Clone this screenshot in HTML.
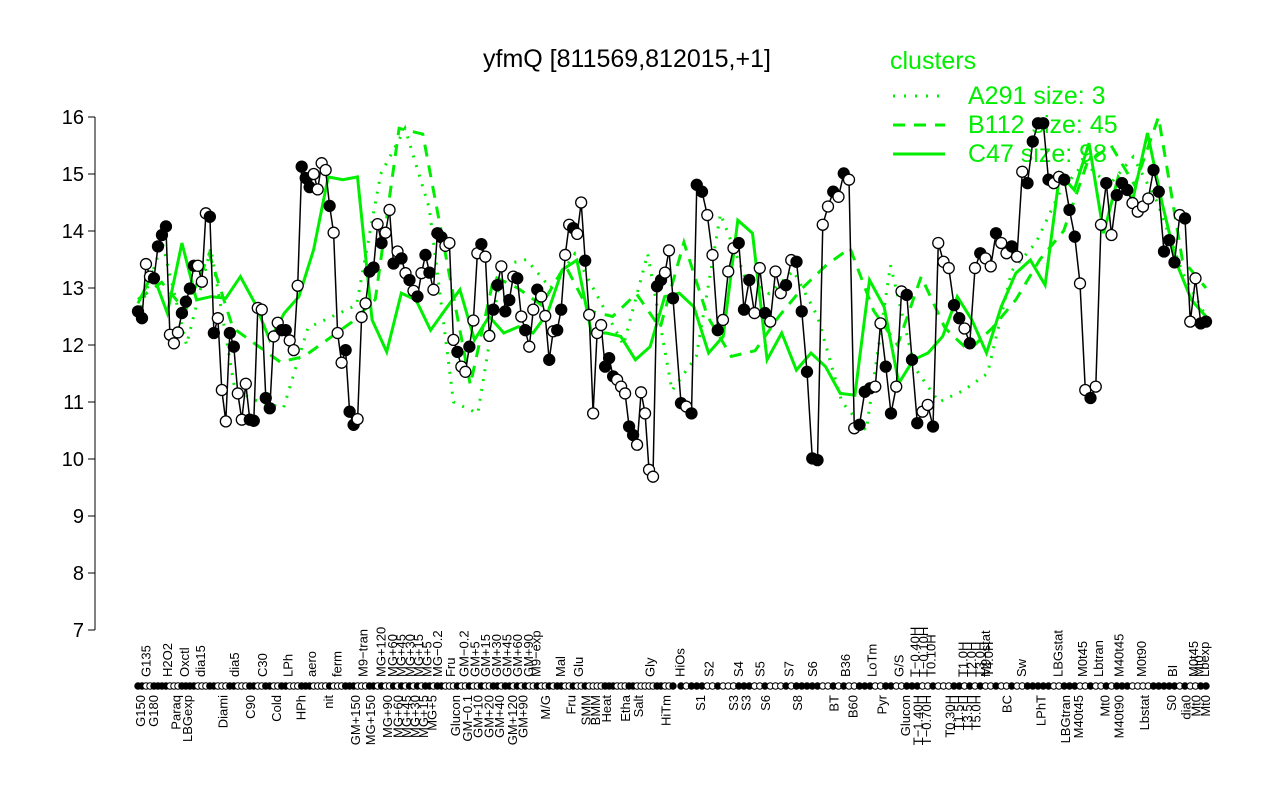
<!DOCTYPE html>
<html><head><meta charset="utf-8"><title>yfmQ</title>
<style>
html,body{margin:0;padding:0;background:#fff;}
svg{display:block;font-family:"Liberation Sans",Arial,sans-serif;}
</style></head>
<body>
<svg id="chart" width="1280" height="800" viewBox="0 0 1280 800">
<text x="627" y="67" font-size="25" text-anchor="middle">yfmQ [811569,812015,+1]</text>
<g id="legend">
<text x="890" y="69" font-size="25" fill="#00ee00">clusters</text>
<g><line x1="893" y1="96" x2="945" y2="96" stroke="#00ee00" stroke-width="3" stroke-dasharray="2,9"/><text x="968" y="104" font-size="25" fill="#00ee00">A291 size: 3</text></g>
<g><line x1="893" y1="125" x2="945" y2="125" stroke="#00ee00" stroke-width="3" stroke-dasharray="12,9"/><text x="968" y="133" font-size="25" fill="#00ee00">B112 size: 45</text></g>
<g><line x1="893" y1="154" x2="945" y2="154" stroke="#00ee00" stroke-width="3"/><text x="968" y="162" font-size="25" fill="#00ee00">C47 size: 98</text></g>
</g>
</svg>
<script>
const values = [12.59,12.47,13.42,13.20,13.17,13.73,13.93,14.08,12.18,12.03,12.22,12.56,12.76,12.99,13.39,13.39,13.11,14.31,14.25,12.21,12.47,11.21,10.66,12.21,11.97,11.15,10.69,11.32,10.69,10.67,12.65,12.62,11.07,10.89,12.15,12.39,12.26,12.26,12.08,11.91,13.04,15.13,14.93,14.77,15.00,14.73,15.19,15.07,14.44,13.97,12.21,11.69,11.91,10.83,10.60,10.70,12.49,12.73,13.29,13.36,14.12,13.79,13.97,14.37,13.43,13.64,13.52,13.26,13.14,12.95,12.85,13.26,13.58,13.27,12.97,13.96,13.89,13.74,13.79,12.09,11.88,11.62,11.53,11.97,12.43,13.61,13.77,13.55,12.16,12.62,13.05,13.38,12.59,12.79,13.20,13.17,12.50,12.26,11.97,12.62,12.97,12.85,12.51,11.74,12.24,12.26,12.62,13.58,14.11,14.05,13.95,14.50,13.48,12.53,10.80,12.21,12.35,11.62,11.77,11.45,11.39,11.27,11.15,10.57,10.42,10.25,11.17,10.80,9.81,9.69,13.03,13.14,13.27,13.66,12.82,
10.98,10.92,10.80,14.81,14.69,14.28,13.58,12.26,12.44,13.29,13.70,13.79,12.62,13.14,12.56,13.35,12.56,12.41,13.29,12.91,13.05,13.49,13.46,12.59,11.53,10.01,9.98,14.11,14.43,14.69,14.60,15.01,14.90,10.54,10.60,11.18,11.24,11.27,12.38,11.62,10.80,11.27,12.94,12.88,11.74,10.63,10.83,10.95,10.57,13.79,13.46,13.35,12.70,12.47,12.29,12.03,13.35,13.61,13.52,13.38,13.96,13.79,13.61,13.73,13.55,15.04,14.84,15.57,15.89,15.89,14.90,14.84,14.95,14.90,14.37,13.90,13.08,11.21,11.07,11.27,14.11,14.84,13.93,14.63,14.84,14.72,14.49,14.34,14.43,14.57,15.07,14.69,13.64,13.84,13.45,14.28,14.22,12.41,13.17,12.38,12.41];
const filled = "ffooffffoooffffoooffoooffoooffooffooffooofffoooofooofffoooffofoofofofofoffoffooofoofoofooffoffofofoofoofoffoofoofoooofffoooffoooooffooffofff"+
"oofooofffoofooofofffffoofofoofffooffoofffoofoooffofofoofoofoofffffoofffoofoofofffoooofffffofooffoffooffoff";
const leftCount = 135;
const c47 = [12.73,13.26,12.56,13.79,12.79,12.85,12.82,13.20,12.73,12.09,12.56,12.85,13.67,14.95,14.90,14.95,12.44,11.88,12.91,12.79,12.26,12.62,12.97,12.09,12.50,12.21,12.32,12.21,12.56,13.32,13.49,12.21,12.21,12.15,11.74,11.97,12.85,12.91,12.67,
11.86,12.15,14.19,13.96,11.74,12.21,11.56,11.86,11.62,11.15,11.12,13.14,12.67,11.33,11.74,11.86,12.15,12.85,12.44,11.86,12.67,13.26,13.49,13.05,15.01,14.72,15.54,13.96,14.95,14.55,15.72,14.49,13.43,12.79,12.50];
const b112 = [12.8,13.1,12.6,13.6,12.3,12.0,11.7,11.8,12.1,12.4,12.8,15.8,15.7,13.5,11.3,13.2,13.0,12.7,13.4,12.6,12.5,12.9,12.3,13.8,12.5,11.8,11.9,12.5,13.0,13.4,13.7,12.6,12.0,13.2,12.3,11.9,12.3,12.8,13.5,14.0,15.2,15.5,14.8,16.0,13.5,13.0];
const a291 = [12.5,13.8,12.0,13.7,11.2,11.0,10.9,12.3,12.5,12.7,15.0,15.8,14.4,11.0,10.8,13.4,13.5,13.0,13.6,12.8,12.0,13.6,11.2,11.8,14.3,13.2,12.9,13.3,12.5,11.0,10.5,13.4,11.6,11.0,11.2,11.5,13.3,13.8,14.7,15.2,14.8,15.3,14.5,13.3,12.5];
const yTicks = [7,8,9,10,11,12,13,14,15,16];
const topLabels = [["G135",0.007],["H2O2",0.027],["Oxctl",0.043],["dia15",0.058],["dia5",0.090],["C30",0.116],["LPh",0.140],["aero",0.162],["ferm",0.186],["M9−tran",0.210],["MG+120",0.227],["MG+60",0.238],["MG+45",0.246],["MG+30",0.254],["MG+15",0.262],["MG+5",0.270],["MG−0.2",0.280],["Fru",0.292],["GM−0.2",0.305],["GM+5",0.315],["GM+15",0.325],["GM+30",0.335],["GM+45",0.345],["GM+60",0.355],["GM+90",0.365],["M9−exp",0.372],["Mal",0.395],["Glu",0.412],["Gly",0.479],["HiOs",0.507],["S2",0.534],["S4",0.562],["S5",0.582],["S7",0.609],["S6",0.631],["B36",0.662],["LoTm",0.687],["G/S",0.712],["T−0.40H",0.727],["T−0.10H",0.735],["T0.10H",0.742],["T1.0H",0.772],["T2.0H",0.780],["T3.0H",0.788],["T4.0H",0.796],["M9−stat",0.793],["Sw",0.827],["LBGstat",0.861],["M0t45",0.884],["Lbtran",0.899],["M40t45",0.918],["M0t90",0.939],["BI",0.968],["M0t45",0.988],["Mt0",0.993],["Lbexp",0.998]];
const bottomLabels = [["G150",0.002],["G180",0.014],["Paraq",0.035],["LBGexp",0.046],["Diami",0.079],["C90",0.105],["Cold",0.129],["HPh",0.152],["nit",0.178],["GM+150",0.203],["MG+150",0.217],["MG+90",0.233],["MG+60",0.243],["MG+45",0.251],["MG+30",0.259],["MG+15",0.267],["MG+5",0.275],["Glucon",0.297],["GM−0.1",0.308],["GM+10",0.318],["GM+20",0.328],["GM+40",0.338],["GM+120",0.350],["GM+90",0.360],["M/G",0.381],["Fru",0.405],["SMM",0.419],["BMM",0.428],["Heat",0.438],["Etha",0.456],["Salt",0.468],["HiTm",0.494],["S1",0.526],["S3",0.557],["S3",0.569],["S6",0.587],["S8",0.617],["BT",0.651],["B60",0.669],["Pyr",0.696],["Glucon",0.718],["T−1.40H",0.730],["T−0.70H",0.738],["T0.30H",0.760],["T1.5H",0.768],["T3.5H",0.776],["T5.0H",0.784],["BC",0.813],["LPhT",0.845],["LBGtran",0.868],["M40t45",0.880],["Mt0",0.905],["M40t90",0.918],["Lbstat",0.942],["S0",0.967],["dia0",0.981],["Mt0",0.990],["Mt0",0.999]];

const svg = document.getElementById('chart');
const NS = 'http://www.w3.org/2000/svg';
const X0 = 138, X1 = 1206, XM0 = 673, XM1 = 681, Y0 = 630, YPX = 57;
function xScale(i, n){ return X0 + (X1 - X0) * i / (n - 1); }
function xData(i){
  if (i < leftCount) return X0 + (XM0 - X0) * i / (leftCount - 1);
  const n = values.length - leftCount;
  return XM1 + (X1 - XM1) * (i - leftCount) / Math.max(1, n - 1);
}
function yScale(v){ return Y0 - (v - 7) * YPX; }
function mk(tag, attrs, parent){ const e = document.createElementNS(NS, tag); for (const k in attrs) e.setAttribute(k, attrs[k]); (parent||svg).appendChild(e); return e; }

const yAxis = mk('g', {});


mk('line', {x1:95, y1:yScale(16), x2:95, y2:yScale(7), stroke:'#000', 'stroke-width':1}, yAxis);
yTicks.forEach(t => {
  mk('line', {x1:88, y1:yScale(t), x2:95, y2:yScale(t), stroke:'#000'}, yAxis);
  const tx = mk('text', {x:84, y:yScale(t)+7, 'font-size':20, 'text-anchor':'end'}, yAxis);
  tx.textContent = t;
  
  
});

function seriesPath(arr, xf, attrs, name){
  const d = arr.map((v,i) => (i ? 'L' : 'M') + xf(i).toFixed(1) + ',' + yScale(v).toFixed(1)).join('');
  const p = mk('path', Object.assign({d:d, fill:'none'}, attrs));
  
  
  return p;
}
seriesPath(a291, i => xScale(i, a291.length), {stroke:'#00ee00', 'stroke-width':3, 'stroke-dasharray':'2,8'}, 'series-a291');
seriesPath(b112, i => xScale(i, b112.length), {stroke:'#00ee00', 'stroke-width':3, 'stroke-dasharray':'12,9'}, 'series-b112');
seriesPath(c47, i => xScale(i, c47.length), {stroke:'#00ee00', 'stroke-width':3}, 'series-c47');
seriesPath(values, xData, {stroke:'#000', 'stroke-width':1.5}, 'series-yfmq');

const pts = mk('g', {});


const rug = mk('g', {});


values.forEach((v,i) => {
  const f = filled[i] === 'f';
  const c = mk('circle', {cx:xData(i), cy:yScale(v), r:5.5, fill: f ? '#000' : '#fff', stroke:'#000', 'stroke-width':1.3}, pts);
  
  
  const m = mk('circle', {cx:xData(i), cy:686, r:3.2, fill: f ? '#000' : '#fff', stroke:'#000', 'stroke-width':1}, rug);
  
  
});

function labels(list, up){
  const g = mk('g', {});
  
  
  list.forEach(([name, frac]) => {
    const x = X0 + (X1 - X0) * frac + 5;
    const y = up ? 677 : 695;
    const t = mk('text', {x:x, y:y, 'font-size':13, 'text-anchor': up ? 'start' : 'end', transform:'rotate(-90 '+x+' '+y+')'}, g);
    t.textContent = name;
    
    
  });
}
labels(topLabels, true);
labels(bottomLabels, false);
</script>
</body></html>
